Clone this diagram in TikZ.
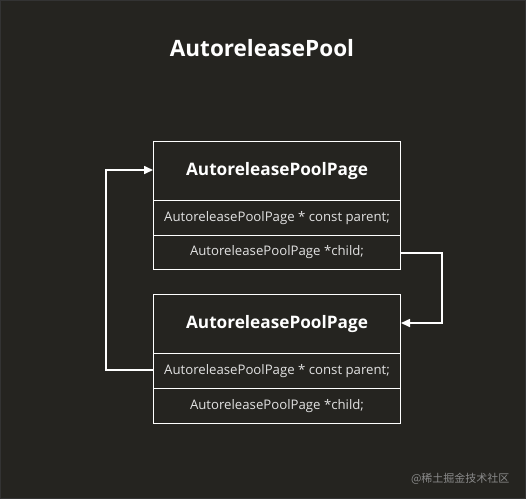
\documentclass[tikz,border=0pt]{standalone}
\usepackage{fontspec}
\setmainfont{Open Sans}
\newfontfamily\cjk{Noto Sans CJK SC}
\usetikzlibrary{arrows.meta}
\definecolor{bg}{HTML}{252420}
\definecolor{rowtxt}{HTML}{E2E2E2}
\definecolor{wm}{HTML}{8A8A8A}
\tikzset{
  cell/.style={draw=white, line width=1pt, fill=bg, minimum width=247pt, anchor=north west, inner sep=0pt, text=rowtxt, font=\fontsize{13.2}{15}\selectfont},
  head/.style={cell, text=white, font=\fontsize{17.2}{19}\selectfont\bfseries},
  link/.style={draw=white, line width=1.6pt, -{Triangle[length=9pt,width=8pt]}},
}
\begin{document}
\begin{tikzpicture}[x=1pt,y=-1pt]
\fill[bg] (0,0) rectangle (526,499);
\draw[black!80, line width=1pt] (0.5,0.5) rectangle (525.5,498.5);
\useasboundingbox (0,0) rectangle (526,499);
\node[text=white, font=\fontsize{22.5}{26}\selectfont\bfseries] (title) at (262,48) {AutoreleasePool};
% page 1
\node[head, minimum height=59pt] (h1) at (153,141) {AutoreleasePoolPage};
\node[cell, minimum height=35pt] (p1) at (153,200) {AutoreleasePoolPage * const parent;};
\node[cell, minimum height=34pt] (c1) at (153,235) {AutoreleasePoolPage *child;};
% page 2
\node[head, minimum height=59pt] (h2) at (153,294) {AutoreleasePoolPage};
\node[cell, minimum height=35pt] (p2) at (153,353) {AutoreleasePoolPage * const parent;};
\node[cell, minimum height=35pt] (c2) at (153,388) {AutoreleasePoolPage *child;};
% links
\coordinate (r1) at (442,253);
\coordinate (r2) at (442,323);
\coordinate (l1) at (106,370);
\coordinate (l2) at (106,170);
\draw[link] (c1.east |- r1) -- (r1) -- (r2) -- (h2.east |- r2);
\draw[link] (p2.west |- l1) -- (l1) -- (l2) -- (h1.west |- l2);
\node[text=wm, font=\cjk\fontsize{11}{13}\selectfont, anchor=east] (wmk) at (513,479) {@稀土掘金技术社区};
\end{tikzpicture}
\end{document}
